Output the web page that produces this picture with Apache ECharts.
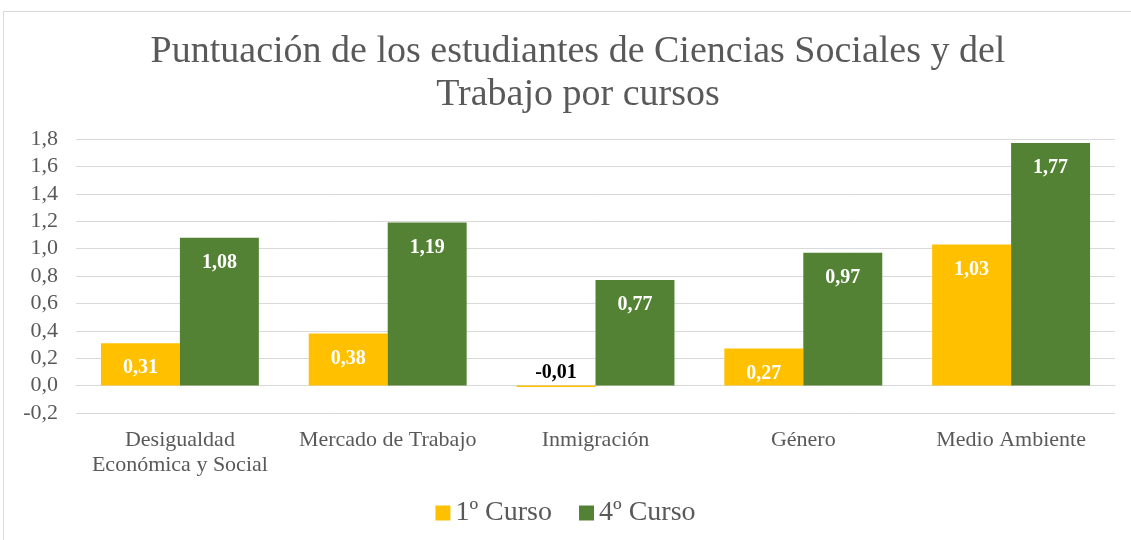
<!DOCTYPE html>
<html>
<head>
<meta charset="utf-8">
<script src="https://cdn.jsdelivr.net/npm/echarts@6/dist/echarts.min.js"></script>
<style>
  html, body { margin: 0; padding: 0; background: #fff; }
  #frame { position: absolute; left: 3px; top: 11px; width: 1140px; height: 540px; border: 1px solid #d9d9d9; box-sizing: border-box; }
  #chart { position: absolute; left: 0; top: 0; width: 1131px; height: 540px; }
</style>
</head>
<body>
<div id="frame"></div>
<div id="chart"></div>
<script>
// datos
const categories = ['Desigualdad\nEconómica y Social', 'Mercado de Trabajo', 'Inmigración', 'Género', 'Medio Ambiente'];
const curso1 = [0.31, 0.38, -0.01, 0.27, 1.03];
const curso4 = [1.08, 1.19, 0.77, 0.97, 1.77];
const seriesNames = ['1º Curso', '4º Curso'];

const grey = '#595959';
const font = '"Liberation Serif", "Times New Roman", serif';

const fmt = v => v.toFixed(2).replace('.', ',');

// etiqueta blanca dentro de la barra, salvo valores negativos
const makeData = arr => arr.map(v => {
    if (v < 0) {
        return {
            value: v,
            label: { position: 'top', distance: 3, color: '#000' }
        };
    }
    return v;
});

const labelStyle = {
    show: true,
    position: 'insideTop',
    distance: 15,
    color: '#fff',
    fontFamily: font,
    fontWeight: 'bold',
    fontSize: 20,
    formatter: p => fmt(p.value)
};

const chart = echarts.init(document.getElementById('chart'));
chart.setOption({
    animation: false,
    textStyle: { fontFamily: font },
    title: {
        text: 'Puntuación de los estudiantes de Ciencias Sociales y del\nTrabajo por cursos',
        left: 573,
        top: 26,
        textAlign: 'center',
        textStyle: {
            fontFamily: font,
            fontSize: 38,
            fontWeight: 'normal',
            color: grey,
            lineHeight: 43
        }
    },
    legend: {
        data: seriesNames,
        bottom: 8,
        left: 'center',
        itemWidth: 15,
        itemHeight: 15,
        itemGap: 27,
        icon: 'rect',
        textStyle: { fontFamily: font, fontSize: 28, color: grey }
    },
    grid: { left: 76, right: 16, top: 139, bottom: 127 },
    xAxis: {
        type: 'category',
        data: categories,
        axisLine: { show: true, onZero: true, lineStyle: { color: '#d9d9d9' } },
        axisTick: { show: false },
        axisLabel: {
            margin: 15,
            color: grey,
            fontFamily: font,
            fontSize: 22,
            lineHeight: 25,
            interval: 0
        }
    },
    yAxis: {
        type: 'value',
        min: -0.2,
        max: 1.8,
        interval: 0.2,
        axisLine: { show: false },
        axisTick: { show: false },
        splitLine: { lineStyle: { color: '#d9d9d9', width: 1 } },
        axisLabel: {
            color: grey,
            fontFamily: font,
            fontSize: 22,
            margin: 18,
            formatter: v => v.toFixed(1).replace('.', ',')
        }
    },
    series: [
        {
            name: seriesNames[0],
            type: 'bar',
            data: makeData(curso1),
            itemStyle: { color: '#FFC000' },
            barGap: '0%',
            barCategoryGap: '24%',
            label: labelStyle
        },
        {
            name: seriesNames[1],
            type: 'bar',
            data: makeData(curso4),
            itemStyle: { color: '#548235' },
            label: labelStyle
        }
    ]
});
</script>
</body>
</html>
